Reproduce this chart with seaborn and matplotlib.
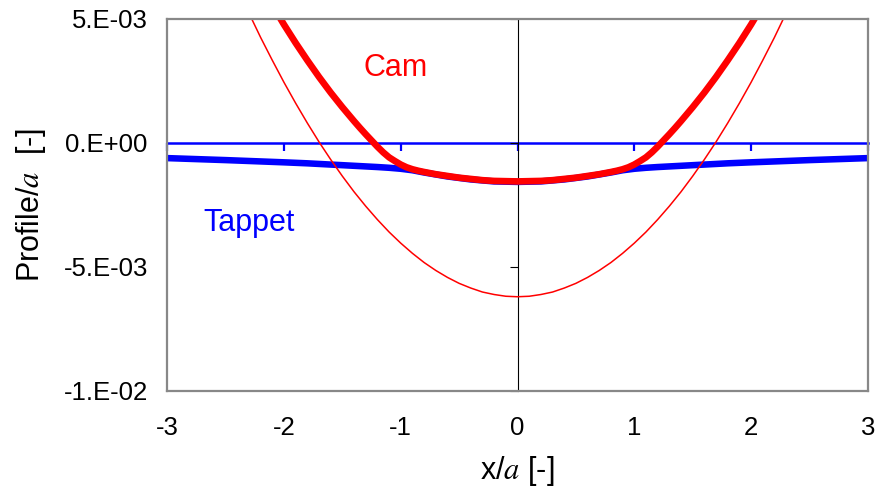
import numpy as np
import pandas as pd
import matplotlib
matplotlib.use("Agg")
import matplotlib.pyplot as plt
import seaborn as sns

# values, profiles in units of 1e-3
# thin red: cam before loading
cam_thin_x = [-2.4, -2.3, -2.2, -2.1, -2.0, -1.9, -1.8, -1.7, -1.6, -1.5, -1.4, -1.3, -1.2, -1.1, -1.0,
              -0.9, -0.8, -0.7, -0.6, -0.5, -0.4, -0.3, -0.2, -0.1, 0.0,
              0.1, 0.2, 0.3, 0.4, 0.5, 0.6, 0.7, 0.8, 0.9, 1.0,
              1.1, 1.2, 1.3, 1.4, 1.5, 1.6, 1.7, 1.8, 1.9, 2.0, 2.1, 2.2, 2.3, 2.4]
cam_thin_y = [6.24, 5.23, 4.25, 3.33, 2.44, 1.60, 0.80, 0.04, -0.67, -1.34, -1.97, -2.55, -3.09, -3.59, -4.04,
              -4.45, -4.82, -5.14, -5.42, -5.66, -5.85, -6.01, -6.11, -6.18, -6.20,
              -6.18, -6.11, -6.01, -5.85, -5.66, -5.42, -5.14, -4.82, -4.45, -4.04,
              -3.59, -3.09, -2.55, -1.97, -1.34, -0.67, 0.04, 0.80, 1.60, 2.44, 3.33, 4.25, 5.23, 6.24]

# thick red: cam in contact
cam_x = [-2.2, -2.1, -2.0, -1.9, -1.8, -1.7, -1.6, -1.5, -1.4, -1.35, -1.3, -1.25, -1.2, -1.15, -1.1, -1.05,
         -1.0, -0.95, -0.9, -0.85, -0.8, -0.7, -0.6, -0.5, -0.4, -0.3, -0.2, -0.1, 0.0,
         0.1, 0.2, 0.3, 0.4, 0.5, 0.6, 0.7, 0.8, 0.85, 0.9, 0.95, 1.0,
         1.05, 1.1, 1.15, 1.2, 1.25, 1.3, 1.35, 1.4, 1.5, 1.6, 1.7, 1.8, 1.9, 2.0, 2.1, 2.2]
cam_y = [6.38, 5.56, 4.77, 4.03, 3.33, 2.66, 2.03, 1.44, 0.88, 0.61, 0.35, 0.10, -0.15, -0.38, -0.58, -0.73,
         -0.87, -0.98, -1.06, -1.12, -1.17, -1.26, -1.33, -1.40, -1.45, -1.50, -1.53, -1.54, -1.55,
         -1.54, -1.53, -1.50, -1.45, -1.40, -1.33, -1.26, -1.17, -1.12, -1.06, -0.98, -0.87,
         -0.73, -0.58, -0.38, -0.15, 0.10, 0.35, 0.61, 0.88, 1.44, 2.03, 2.66, 3.33, 4.03, 4.77, 5.56, 6.38]

# thick blue: tappet
tappet_x = [-3.0, -2.5, -2.0, -1.8, -1.6, -1.4, -1.2, -1.1, -1.0, -0.9, -0.8, -0.6, -0.4, -0.2, 0.0,
            0.2, 0.4, 0.6, 0.8, 0.9, 1.0, 1.1, 1.2, 1.4, 1.6, 1.8, 2.0, 2.5, 3.0]
tappet_y = [-0.61, -0.69, -0.78, -0.82, -0.87, -0.92, -0.97, -1.00, -1.04, -1.10, -1.19, -1.35, -1.47, -1.55, -1.57,
            -1.55, -1.47, -1.35, -1.19, -1.10, -1.04, -1.00, -0.97, -0.92, -0.87, -0.82, -0.78, -0.69, -0.61]

x_ticks = [-3, -2, -1, 0, 1, 2, 3]
y_ticks = [-1e-2, -5e-3, 0.0, 5e-3]
y_ticklabels = ["-1.E-02", "-5.E-03", "0.E+00", "5.E-03"]

scale = 1e-3
cam_thin_y = np.array(cam_thin_y) * scale
cam_y = np.array(cam_y) * scale
tappet_y = np.array(tappet_y) * scale

sns.set_style("white")
plt.rcParams['font.family'] = ['Liberation Sans', 'DejaVu Sans']
plt.rcParams['mathtext.fontset'] = 'stix'
plt.rcParams['text.color'] = 'black'
plt.rcParams['axes.labelcolor'] = 'black'

fig = plt.figure(figsize=(8.75, 4.97), dpi=100)
ax = fig.add_axes([0.1912, 0.2133, 0.8005, 0.7485])

sns.lineplot(x=tappet_x, y=tappet_y, color='#0000FF', linewidth=4.7, ax=ax)
sns.lineplot(x=cam_thin_x, y=cam_thin_y, color='#FF0000', linewidth=1.1, ax=ax)
sns.lineplot(x=cam_x, y=cam_y, color='#FF0000', linewidth=4.8, ax=ax)

ax.set_xlim(-3, 3)
ax.set_ylim(-0.01, 0.005)
ax.set_xticks(x_ticks)
ax.set_xticklabels([str(t) for t in x_ticks])
ax.set_yticks(y_ticks)
ax.set_yticklabels(y_ticklabels)
ax.tick_params(axis='both', length=0, labelsize=18.5, colors='black')
ax.tick_params(axis='x', pad=18)
ax.tick_params(axis='y', pad=14)
for s in ax.spines.values():
    s.set_color('#888888')
    s.set_linewidth(1.6)

ax.set_xlabel("x/$a$ [-]", fontsize=22, labelpad=10)
ax.set_ylabel("Profile/$a$  [-]", fontsize=22, labelpad=11)

# axes crossing at y=0 (blue) and x=0 (black), Excel style
secx = ax.secondary_xaxis(0, transform=ax.transData)
secx.set_alignment('bottom')
secx.set_xticks(x_ticks)
secx.tick_params(axis='x', direction='out', length=6, width=1.6, color='#0000FF',
                 labelbottom=False, labeltop=False)
secx.spines['bottom'].set_color('#0000FF')
secx.spines['bottom'].set_linewidth(1.8)

secy = ax.secondary_yaxis(0, transform=ax.transData)
secy.set_alignment('left')
secy.set_yticks(y_ticks)
secy.tick_params(axis='y', direction='out', length=6, width=0.8, color='black',
                 labelleft=False, labelright=False)
secy.spines['left'].set_color('black')
secy.spines['left'].set_linewidth(0.8)

ax.text(-1.04, 2.71e-3, "Cam", color='#FF0000', fontsize=22, ha='center', va='baseline')
ax.text(-2.30, -3.56e-3, "Tappet", color='#0000FF', fontsize=22, ha='center', va='baseline')

fig.savefig("out.png", dpi=100)
